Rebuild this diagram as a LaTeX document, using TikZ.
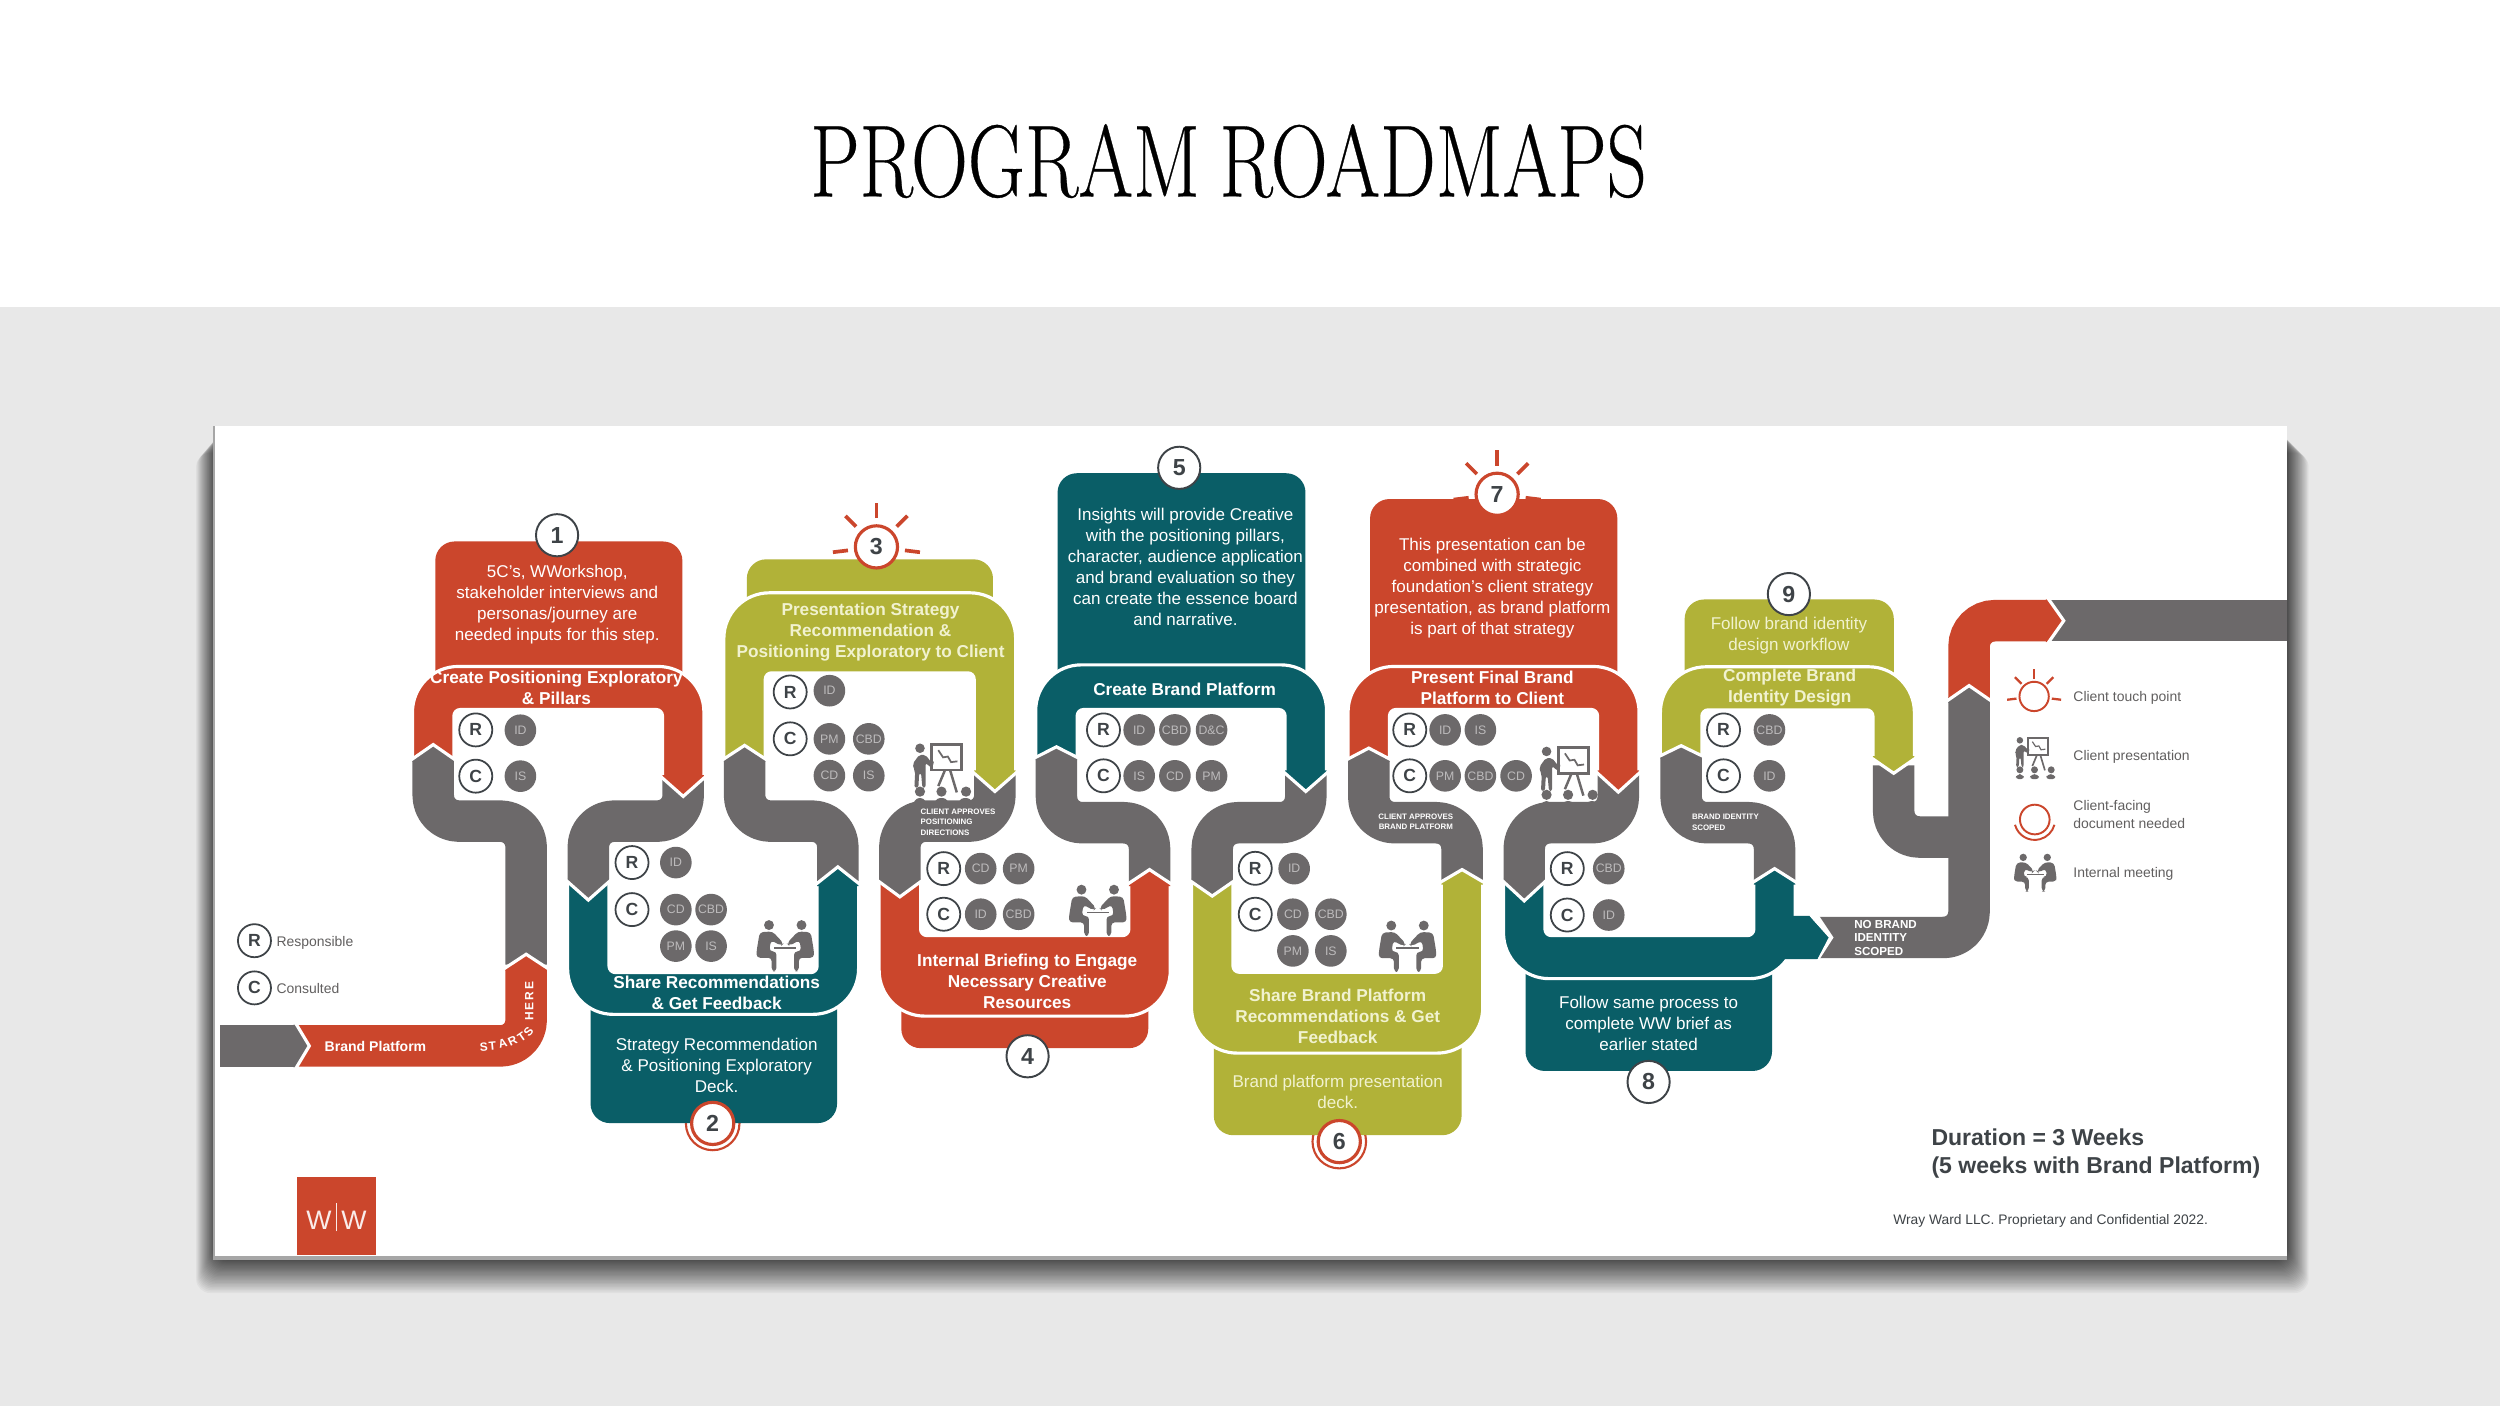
\documentclass[tikz,border=0pt]{standalone}
\usepackage{fontspec}
\setmainfont{Liberation Sans}
\newfontfamily\serifT[FakeBold=0.35]{Latin Modern Roman}
\definecolor{rd}{HTML}{CB462C}
\definecolor{tl}{HTML}{0A5E67}
\definecolor{ol}{HTML}{B1B238}
\definecolor{gy}{HTML}{6C696A}
\definecolor{bgg}{HTML}{E8E8E8}
\definecolor{dk}{HTML}{3E4347}
\definecolor{olt}{HTML}{F1F2CF}
\newcount\nodeno
\newcommand{\nextno}{\global\advance\nodeno by 1 }
\tikzset{
 rib/.style={line width=11.8pt,rounded corners=7.3pt,line join=round},
 txtbase/.style={inner sep=0pt,align=center,text=white,yshift=-.45pt},
 body/.style={txtbase,font=\fontsize{4.85}{5.95}\selectfont},
 head/.style={txtbase,font=\fontsize{4.9}{5.95}\selectfont\bfseries},
 tiny/.style={inner sep=0pt,align=left,text=white,font=\fontsize{2.25}{2.95}\selectfont\bfseries},
 gcirc/.style={circle,fill=gy,minimum size=9pt,inner sep=0pt,text=gy!45!white,font=\fontsize{3.5}{4}\selectfont},
 rcirc/.style={circle,fill=white,draw=dk,line width=.5pt,minimum size=9.4pt,inner sep=0pt,text=dk,font=\fontsize{5}{6}\selectfont\bfseries},
 num/.style={circle,fill=white,draw=dk,line width=.55pt,minimum size=12pt,inner sep=0pt,text=dk,font=\fontsize{6.6}{7}\selectfont\bfseries},
 numr/.style={num,draw=rd,line width=.9pt},
 leg/.style={inner sep=0pt,anchor=west,align=left,yshift=-.45pt,text=gy!90!black,font=\fontsize{3.97}{4.9}\selectfont},
 lett/.style={inner sep=0pt,text=white,font=\fontsize{3.4}{4}\selectfont\bfseries},
}
% u-shaped / arch-shaped ribbon
\newcommand{\archrib}[7]{%
 \filldraw[fill=#1,draw=white,line width=.9pt,line join=round] (#2-13,#6) [rounded corners=13pt] -- (#2-13,#4) -- (#3+13,#4) [sharp corners] -- (#3+13,#7) -- (#3-13,#7) [rounded corners=1.8pt] -- (#3-13,#5) -- (#2+13,#5) [sharp corners] -- (#2+13,#6) -- cycle;}
% chevron tip: x, shoulder y, tip y, colour
\newcommand{\chev}[4]{%
 \pgfmathsetmacro\dd{#2>#3?1.8:-1.8}%
 \fill[#4] (#1-13,#2+\dd) -- (#1-13,#2) -- (#1,#3) -- (#1+13,#2) -- (#1+13,#2+\dd) -- cycle;
 \draw[white,line width=.9pt,line join=miter] ({#1-14.8},{#2-(#3-#2)*0.14}) -- (#1,#3) -- ({#1+14.8},{#2-(#3-#2)*0.14});}
\newcommand{\chevr}[4]{%
 \fill[#4] (#2-1.8,#1-13.4) -- (#2,#1-13.4) -- (#3,#1) -- (#2,#1+13.4) -- (#2-1.8,#1+13.4) -- cycle;
 \draw[white,line width=.9pt,line join=miter] ({#2-(#3-#2)*0.14},#1-15.2) -- (#3,#1) -- ({#2-(#3-#2)*0.14},#1+15.2);}
\newcommand{\boxtop}[5]{\fill[#1] (#2,#5) [rounded corners=5.5pt] -- (#2,#3) -- (#4,#3) [sharp corners] -- (#4,#5) -- cycle;}
\newcommand{\boxbot}[5]{\fill[#1] (#2,#3) [rounded corners=5.5pt] -- (#2,#5) -- (#4,#5) [sharp corners] -- (#4,#3) -- cycle;}
\newcommand{\gc}[3]{\nextno\node[gcirc] (g\the\nodeno) at (#1,#2) {#3};}
\newcommand{\rc}[3]{\nextno\node[rcirc] (r\the\nodeno) at (#1,#2) {#3};}
\newcommand{\rays}[3]{\foreach \a in {-97,-45,0,45,97}
  \draw[rd,line width=#3*1.05pt] ({#1+#3*18*sin(\a)},{#2-#3*18*cos(\a)}) -- ({#1+#3*27.5*sin(\a)},{#2-#3*27.5*cos(\a)});}
% people icons
\newcommand{\meet}[3]{\begin{scope}[shift={(#1,#2)},scale=#3]
 \fill[gy] (-10.2,-12.5) circle[radius=3.1] (10.2,-12.5) circle[radius=3.1];
 \fill[gy,rounded corners=1pt] (-18,4) -- (-16,-8) -- (-8,-8.5) -- (-1,-1) -- (-2.5,0.5) -- (-9,-3) -- (-10,4) -- (-5.5,4) -- (-5.5,16.5) -- (-8.5,16.5) -- (-8.5,8) -- (-18,8) -- cycle;
 \fill[gy,rounded corners=1pt] (18,4) -- (16,-8) -- (8,-8.5) -- (1,-1) -- (2.5,0.5) -- (9,-3) -- (10,4) -- (5.5,4) -- (5.5,16.5) -- (8.5,16.5) -- (8.5,8) -- (18,8) -- cycle;
 \fill[gy] (-7,1.2) rectangle (7,2.4);
 \end{scope}}
\newcommand{\present}[3]{\begin{scope}[shift={(#1,#2)},scale=#3]
 \fill[gy] (-10.5,-15.7) circle[radius=3];
 \fill[gy,rounded corners=.6pt] (-14.5,-3) -- (-15,-6) -- (-11,-11.5) -- (-7,-11.5) -- (-3.5,-7) -- (-2.5,-8) -- (-1.5,-6.5) -- (-3.5,-3.5) -- (-7,-6.5) -- (-7,9) -- (-9,9) -- (-9.8,0) -- (-11,0) -- (-11.5,9) -- (-14,9) -- (-13.5,-1) -- cycle;
 \draw[gy,line width=#3*.75pt] (-3.2,-18) rectangle (15.7,-2);
 \draw[gy,line width=#3*.5pt] (1,-14.5) -- (4,-10) -- (7,-10.5) -- (9,-7) -- (13,-7.5);
 \draw[gy,line width=#3*.7pt] (5.2,-2) -- (1,8) (8.4,-2) -- (12.6,12);
 \fill[gy] (-10.5,11.5) circle[radius=3.2] (3,11.5) circle[radius=3.2] (18.4,11.5) circle[radius=3.2];
 \fill[gy,rounded corners=1pt] (-15,20) -- (-13,15.5) -- (-8,15.5) -- (-6,20) -- cycle (-2,20) -- (0,15.5) -- (6,15.5) -- (8,20) -- cycle (13,20) -- (15,15.5) -- (21,15.5) -- (23,20) -- cycle;
 \end{scope}}
\begin{document}
\begin{tikzpicture}[x=0.015944cm,y=-0.015944cm]
\useasboundingbox (0,0) rectangle (1568,882);
\fill[bgg] (0,0) rectangle (1568,882);
\fill[white] (0,0) rectangle (1568,192.5);
\node[inner sep=0pt,text=black] (title) at (770.5,101) {\scalebox{0.845}[1.1]{\fontsize{26.5}{30}\serifT PROGRAM\hspace{-1.4pt} ROADMAPS}};
% shadow and slide
\foreach \i in {1,...,30}{
  \pgfmathsetmacro\k{pow(\i/30,1.3)}
  \fill[black,opacity=.034,rounded corners=4pt] ({135-\k*12},{270+\k*14}) rectangle ({1434+\k*14},{789+\k*22});}
\fill[gray!70] (133.5,267) rectangle (1434.5,790.5);
\fill[white] (135,267) rectangle (1434.5,788);
% start
\draw[rib,gy,rounded corners=0pt] (138,656) -- (186,656);
% grey S ribbons
\draw[rib,gy] (271.7,472) -- (271.7,515) -- (330,515) -- (330,605);
\draw[rib,gy] (428.5,486) -- (428.5,515) -- (369,515) -- (369,556);
\draw[rib,gy] (467,472) -- (467,515) -- (525.5,515) -- (525.5,556);
\draw[rib,gy] (624,486) -- (624,515) -- (564.4,515) -- (564.4,556);
\draw[rib,gy] (662.6,472) -- (662.6,516) -- (721,516) -- (721,556);
\draw[rib,gy] (819,486) -- (819,516) -- (760.3,516) -- (760.3,556);
\draw[rib,gy] (858.5,472) -- (858.5,516) -- (917,516) -- (917,556);
\draw[rib,gy] (1015,486) -- (1015,516) -- (956,516) -- (956,556);
\draw[rib,gy] (1054.4,472) -- (1054.4,516) -- (1113,516) -- (1113,556);
\draw[rib,gy] (1187.7,480) -- (1187.7,525) -- (1235,525);
\draw[rib,gy] (1141,588) -- (1235,588) -- (1235,437);
\draw[rib,gy,rounded corners=0pt] (1285,389.3) -- (1434.5,389.3);
% info boxes
\boxtop{rd}{273}{339.6}{428}{424}
\boxtop{ol}{468.4}{350.8}{622.8}{378}
\boxtop{tl}{663.3}{296.8}{818.8}{424}
\boxtop{rd}{859.3}{313}{1014.4}{424}
\boxtop{ol}{1056.6}{376}{1187.8}{424}
\draw[rd,line width=.6pt] (447,704.6) circle[radius=16.8];
\draw[rd,line width=.6pt] (840,716) circle[radius=16.8];
\boxbot{tl}{370.4}{630}{525}{704.4}
\boxbot{rd}{565.3}{630}{720.2}{657.4}
\boxbot{ol}{761.3}{652}{916.7}{712}
\boxbot{tl}{956.8}{606}{1111.4}{671.7}
% main ribbons
\draw[rib,rd] (187,656) -- (330,656) -- (330,607);
\archrib{rd}{271.7}{428.5}{418}{445}{476}{488}
\archrib{tl}{369}{525.5}{636.2}{610}{553}{554}
\archrib{ol}{467}{624}{371.8}{422}{476}{485}
\archrib{rd}{564.4}{721}{637.3}{586.8}{553}{554}
\archrib{tl}{662.6}{819}{417}{445}{475}{485}
\archrib{ol}{760.3}{917}{660.5}{609.8}{553}{553}
\archrib{rd}{858.5}{1015}{418}{445}{476}{485}
\archrib{tl}{956}{1113}{613.8}{586.8}{553}{553}
\archrib{ol}{1054.4}{1187.7}{418.2}{445.2}{474}{476}
\fill[tl] (1105,574.5) -- (1135,574.5) -- (1147,588) -- (1140,601.5) -- (1105,601.5) -- cycle;
\fill[white] (1138,573) -- (1141,574.5) -- (1150,588) -- (1141,602) -- (1138,603) -- (1140,601.5) -- (1147,588) -- (1135,574.5) -- cycle;
\draw[line width=11.8pt,rd,rounded corners=7.3pt] (1235,438) -- (1235,389.3) -- (1285,389.3);
% joints
\chevr{656}{186}{194}{gy}
\chev{330}{607}{598.5}{rd}
\chev{271.7}{476}{467}{gy}
\chev{428.5}{488}{499.5}{rd}
\chev{369}{553}{564.5}{gy}
\chev{525.5}{554}{543.7}{tl}
\chev{467}{476}{467.5}{gy}
\chev{624}{485}{496.4}{ol}
\chev{564.4}{553}{562.5}{gy}
\chev{721}{554}{545.4}{rd}
\chev{662.6}{475}{468.4}{gy}
\chev{819}{485}{496.4}{tl}
\chev{760.3}{553}{562}{gy}
\chev{917}{553}{545.4}{ol}
\chev{858.5}{476}{469.2}{gy}
\chev{1015}{485}{496.8}{rd}
\chev{956}{553}{565}{gy}
\chev{1113}{553}{544.8}{tl}
\chev{1054.4}{474}{467.7}{gy}
\chev{1187.7}{476}{485}{ol}
\chev{1235}{439}{430}{gy}
\chevr{389.3}{1285}{1294.4}{rd}
% texts
\node[body] (b1) at (349.5,378) {5C's, WWorkshop,\\stakeholder interviews and\\personas/journey are\\needed inputs for this step.};
\node[head] (t1) at (349,430.5) {Create Positioning Exploratory\\\& Pillars};
\node[body] (b2) at (449.5,667) {Strategy Recommendation\\\& Positioning Exploratory\\Deck.};
\node[head] (t2) at (449.5,621.5) {Share Recommendations\\\& Get Feedback};
\node[head,text=olt] (t3) at (546,395.5) {Presentation Strategy\\Recommendation \&\\Positioning Exploratory to Client};
\node[head] (t4) at (644.3,614.5) {Internal Briefing to Engage\\Necessary Creative\\Resources};
\node[body] (b5) at (743.5,354.6) {Insights will provide Creative\\with the positioning pillars,\\character, audience application\\and brand evaluation so they\\can create the essence board\\and narrative.};
\node[head] (t5) at (743,431.5) {Create Brand Platform};
\node[body,text=olt] (b6) at (839,684) {Brand platform presentation\\deck.};
\node[head,text=olt] (t6) at (839,636.6) {Share Brand Platform\\Recommendations \& Get\\Feedback};
\node[body] (b7) at (936,368) {This presentation can be\\combined with strategic\\foundation's client strategy\\presentation, as brand platform\\is part of that strategy};
\node[head] (t7) at (936,430.5) {Present Final Brand\\Platform to Client};
\node[body] (b8) at (1034,641) {Follow same process to\\complete WW brief as\\earlier stated};
\node[body,text=olt] (b9) at (1122,397.5) {Follow brand identity\\design workflow};
\node[head,text=olt] (t9) at (1122.5,430.5) {Complete Brand\\Identity Design};
\node[txtbase,font=\fontsize{4}{5}\selectfont\bfseries] (bp) at (235.5,655.5) {Brand Platform};
\node[lett,rotate=90] (here) at (332,628) {H\,E\,R\,E};
\node[lett,rotate=4] (s1) at (303.5,656.8) {S};
\node[lett,rotate=5] (s2) at (308.8,656.3) {T};
\node[lett,rotate=15] (s3) at (315.3,654.7) {A};
\node[lett,rotate=25] (s4) at (321.5,652.9) {R};
\node[lett,rotate=35] (s5) at (327.2,650.3) {T};
\node[lett,rotate=50] (s6) at (331.5,647) {S};
\node[tiny,anchor=west] (a1) at (577,515.7) {CLIENT APPROVES\\POSITIONING\\DIRECTIONS};
\node[tiny,align=center] (a2) at (888,515.6) {CLIENT APPROVES\\BRAND PLATFORM};
\node[tiny,anchor=west] (a3) at (1060.8,515.7) {BRAND IDENTITY\\SCOPED};
\node[tiny,anchor=west,font=\fontsize{3.3}{3.95}\selectfont\bfseries] (a4) at (1162.6,588.3) {NO BRAND\\IDENTITY\\SCOPED};
% R / C groups
\rc{298.4}{457.8}{R}\gc{326.4}{458}{ID}\rc{298.4}{486.8}{C}\gc{326.4}{486.8}{IS}
\rc{396.4}{541}{R}\gc{423.9}{541}{ID}\rc{396.4}{570.5}{C}\gc{423.9}{570.5}{CD}\gc{446}{570.5}{CBD}\gc{423.9}{593.4}{PM}\gc{446}{593.4}{IS}
\rc{495.6}{434}{R}\gc{520.2}{433.2}{ID}\rc{495.6}{463.4}{C}\gc{520.2}{463.4}{PM}\gc{544.9}{463.4}{CBD}\gc{520.2}{486.5}{CD}\gc{544.9}{486.5}{IS}
\rc{591.9}{544.8}{R}\gc{615.1}{544.8}{CD}\gc{638.9}{544.8}{PM}\rc{591.9}{573.4}{C}\gc{615.1}{573.4}{ID}\gc{638.9}{573.4}{CBD}
\rc{692.1}{457.8}{R}\gc{714.5}{457.8}{ID}\gc{736.9}{457.8}{CBD}\gc{759.9}{457.8}{D\&C}\rc{692.1}{486.6}{C}\gc{714.5}{486.6}{IS}\gc{736.9}{486.6}{CD}\gc{759.9}{486.6}{PM}
\rc{787.3}{544.6}{R}\gc{811.7}{544.8}{ID}\rc{787.3}{573.4}{C}\gc{810.9}{573.4}{CD}\gc{834.7}{573.4}{CBD}\gc{810.9}{596.4}{PM}\gc{834.7}{596.4}{IS}
\rc{884.2}{457.8}{R}\gc{906.4}{457.8}{ID}\gc{928.5}{457.8}{IS}\rc{884.2}{486.6}{C}\gc{906.4}{486.6}{PM}\gc{928.5}{486.6}{CBD}\gc{950.9}{486.6}{CD}
\rc{983}{544.8}{R}\gc{1009}{544.8}{CBD}\rc{983}{573.9}{C}\gc{1009}{573.9}{ID}
\rc{1081}{457.8}{R}\gc{1109.8}{457.8}{CBD}\rc{1081}{486.6}{C}\gc{1109.8}{486.6}{ID}
% icons
\meet{492.5}{592.7}{1}
\meet{688.5}{570.5}{1}
\meet{882.8}{593}{1}
\present{587.5}{485}{1}
\present{980.5}{487}{1}
% numbers
\node[num] (n1) at (349.4,335.7) {1};
\node[numr] (n2) at (447,704.6) {2};
\rays{549.7}{343}{1}
\node[numr] (n3) at (549.7,343) {3};
\node[num] (n4) at (644.5,662.5) {4};
\node[num] (n5) at (739.6,293.4) {5};
\node[numr] (n6) at (840,716) {6};
\rays{939}{310}{1}
\node[numr] (n7) at (939,310) {7};
\node[num] (n8) at (1034,678.6) {8};
\node[num] (n9) at (1122,372.6) {9};
% legends
\rc{159.6}{590}{R}\node[leg] (l1) at (173,590.5) {Responsible};
\rc{159.6}{619.6}{C}\node[leg] (l2) at (173,619) {Consulted};
\rays{1275.8}{436.8}{.62}
\draw[rd,line width=.55pt] (1275.8,436.8) circle[radius=9.2];
\node[leg] (l3) at (1300,436.5) {Client touch point};
\present{1274}{475}{.68}
\node[leg] (l4) at (1300,473.7) {Client presentation};
\draw[rd,line width=.55pt] (1276.2,514) circle[radius=9.3];
\draw[rd,line width=.55pt] (1263.8,517.3) arc[start angle=165,end angle=15,radius=12.8];
\node[leg] (l5) at (1300,509.8) {Client-facing\\document needed};
\meet{1276.5}{547}{.74}
\node[leg] (l6) at (1300,547) {Internal meeting};
% footer
\node[inner sep=0pt,anchor=west,align=left,text=dk,font=\fontsize{6.55}{7.75}\selectfont\bfseries] (dur) at (1211,723.5) {Duration = 3 Weeks\\(5 weeks with Brand Platform)};
\node[inner sep=0pt,anchor=west,text=dk,font=\fontsize{3.93}{5}\selectfont] (foot) at (1187,765.5) {Wray Ward LLC. Proprietary and Confidential 2022.};
\fill[rd] (186.4,738.3) rectangle (235.8,787);
\node[inner sep=0pt,text=white!90!rd,font=\fontsize{7.6}{8}\selectfont] (logo) at (211,763.5) {W\,\raisebox{-.5pt}{\rule{.25pt}{8pt}}\,W};
\end{tikzpicture}
\end{document}
